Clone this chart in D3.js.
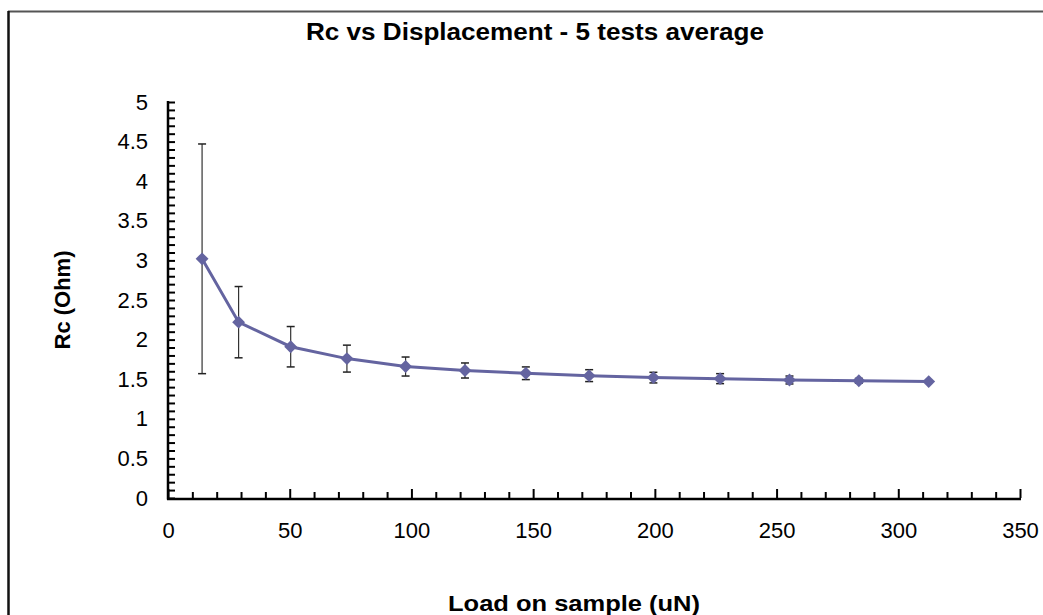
<!DOCTYPE html>
<html>
<head>
<meta charset="utf-8">
<script src="https://cdn.jsdelivr.net/npm/d3@7"></script>
<style>
  html, body { margin: 0; padding: 0; background: #ffffff; }
  svg { display: block; }
  text { font-family: "Liberation Sans", Arial, sans-serif; fill: #000; }
</style>
</head>
<body>
<svg id="chart" width="1043" height="615"></svg>
<script>
// ---- data ----
const loads = [14, 29, 50.4, 73.5, 97.6, 122, 147, 173, 199.4, 226.8, 255.3, 283.8, 312.5];
const rcMean = [3.02, 2.22, 1.91, 1.76, 1.66, 1.61, 1.575, 1.545, 1.52, 1.507, 1.49, 1.48, 1.47];
const rcErr = [1.45, 0.45, 0.255, 0.17, 0.12, 0.095, 0.08, 0.075, 0.067, 0.063, 0.05, 0.03, 0.0];
const xTickLabels = [0, 50, 100, 150, 200, 250, 300, 350];
const yTickLabels = [0, 0.5, 1, 1.5, 2, 2.5, 3, 3.5, 4, 4.5, 5];
const titleText = "Rc vs Displacement - 5 tests average";
const xAxisTitle = "Load on sample (uN)";
const yAxisTitle = "Rc (Ohm)";

// ---- layout ----
const svg = d3.select("#chart");
const plot = { left: 168, right: 1020, top: 102, bottom: 498 };
const x = d3.scaleLinear().domain([0, 350]).range([plot.left, plot.right]);
const y = d3.scaleLinear().domain([0, 5]).range([plot.bottom, plot.top]);
const lineColor = "#6464a0";

// outer frame
svg.append("line").attr("x1", 8).attr("x2", 1043).attr("y1", 11.5).attr("y2", 11.5)
  .attr("stroke", "#555").attr("stroke-width", 2);
svg.append("line").attr("x1", 8.5).attr("x2", 8.5).attr("y1", 11).attr("y2", 615)
  .attr("stroke", "#111").attr("stroke-width", 2.5);

// title
svg.append("text").attr("x", 535).attr("y", 40).attr("text-anchor", "middle")
  .attr("font-size", 23).attr("font-weight", "bold")
  .attr("textLength", 458).attr("lengthAdjust", "spacingAndGlyphs").text(titleText);

// y axis (ticks inside, every 0.1)
const yMinor = d3.range(0, 51).map(i => i / 10);
const yAxis = d3.axisRight(y).tickValues(yMinor).tickSize(7).tickFormat("");
const gy = svg.append("g").attr("transform", `translate(${plot.left},0)`).call(yAxis);
gy.select(".domain").remove();
gy.selectAll(".tick line").attr("stroke", "#000").attr("stroke-width", 2);
svg.append("line").attr("x1", plot.left).attr("x2", plot.left)
  .attr("y1", y(5) - 1).attr("y2", y(0) + 1.5).attr("stroke", "#000").attr("stroke-width", 2.5);

const yLab = d3.axisLeft(y).tickValues(yTickLabels).tickSize(0).tickPadding(20)
  .tickFormat(d => String(d));
const gyl = svg.append("g").attr("transform", `translate(${plot.left},0)`).call(yLab);
gyl.select(".domain").remove();
gyl.selectAll("text").attr("font-size", 22).attr("font-family", "Liberation Sans, Arial, sans-serif")
  .attr("fill", "#000");

// x axis (ticks inside, every 10; majors at 50 taller)
const xMinor = d3.range(0, 36).map(i => i * 10);
const gx = svg.append("g").attr("transform", `translate(0,${plot.bottom})`)
  .call(d3.axisTop(x).tickValues(xMinor).tickSize(6).tickFormat(""));
gx.select(".domain").remove();
gx.selectAll(".tick line").attr("stroke", "#000").attr("stroke-width", 2)
  .attr("y2", d => (d % 50 === 0 ? -9 : -6));
svg.append("line").attr("x1", plot.left - 1).attr("x2", x(350) + 1)
  .attr("y1", plot.bottom + 1).attr("y2", plot.bottom + 1).attr("stroke", "#000").attr("stroke-width", 2.5);

const gxl = svg.append("g").attr("transform", `translate(0,${plot.bottom})`)
  .call(d3.axisBottom(x).tickValues(xTickLabels).tickSize(0).tickPadding(24).tickFormat(d => String(d)));
gxl.select(".domain").remove();
gxl.selectAll("text").attr("font-size", 22).attr("font-family", "Liberation Sans, Arial, sans-serif")
  .attr("fill", "#000");

// axis titles
svg.append("text").attr("x", 574).attr("y", 611).attr("text-anchor", "middle")
  .attr("font-size", 22).attr("font-weight", "bold")
  .attr("textLength", 252).attr("lengthAdjust", "spacingAndGlyphs").text(xAxisTitle);
svg.append("text").attr("transform", "translate(70,300) rotate(-90)").attr("text-anchor", "middle")
  .attr("font-size", 22).attr("font-weight", "bold").text(yAxisTitle);

// data
const pts = loads.map((l, i) => ({ x: l, y: rcMean[i], e: rcErr[i] }));

// error bars
const eb = svg.append("g");
pts.filter(d => d.e > 0).forEach(d => {
  const cx = x(d.x);
  eb.append("line").attr("x1", cx).attr("x2", cx).attr("y1", y(d.y + d.e)).attr("y2", y(d.y - d.e))
    .attr("stroke", "#333").attr("stroke-width", 1.2);
  [d.y + d.e, d.y - d.e].forEach(v => {
    eb.append("line").attr("x1", cx - 4).attr("x2", cx + 4).attr("y1", y(v)).attr("y2", y(v))
      .attr("stroke", "#222").attr("stroke-width", 1.5);
  });
});

// line
svg.append("path").datum(pts)
  .attr("d", d3.line().x(d => x(d.x)).y(d => y(d.y)))
  .attr("fill", "none").attr("stroke", lineColor).attr("stroke-width", 3);

// diamond markers
svg.append("g").selectAll("path").data(pts).join("path")
  .attr("transform", d => `translate(${x(d.x)},${y(d.y)})`)
  .attr("d", d3.symbol().type(d3.symbolDiamond2).size(105))
  .attr("fill", lineColor);
</script>
</body>
</html>
